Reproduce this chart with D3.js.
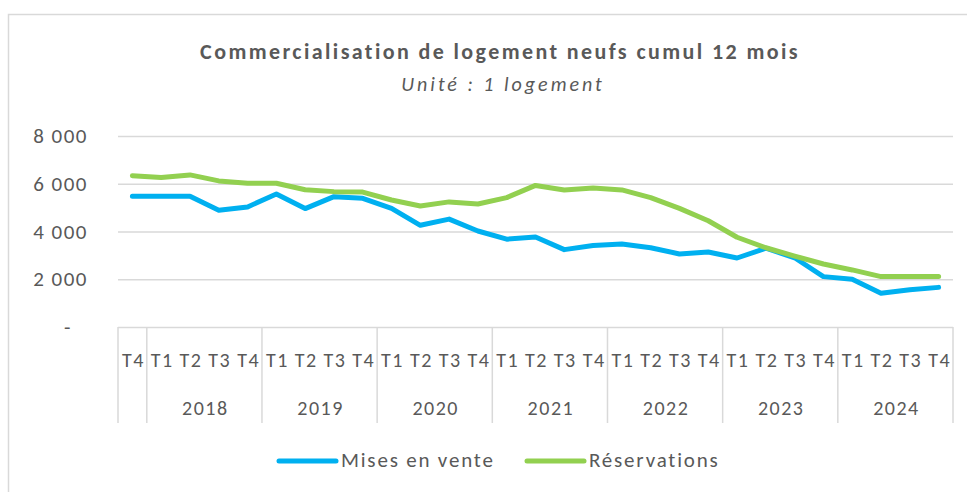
<!DOCTYPE html>
<html>
<head>
<meta charset="utf-8">
<script src="https://cdn.jsdelivr.net/npm/d3@7"></script>
<style>
  body { margin: 0; background: #fff; }
  svg { display: block; }
  text { font-family: Carlito, Lato, "Liberation Sans", sans-serif; fill: #595959; }
</style>
</head>
<body>
<div id="chart"></div>
<script>
// quarters: T4 2017 then 2018..2024
let quarters = ["T4",
  "T1", "T2", "T3", "T4", "T1", "T2", "T3", "T4",
  "T1", "T2", "T3", "T4", "T1", "T2", "T3", "T4",
  "T1", "T2", "T3", "T4", "T1", "T2", "T3", "T4",
  "T1", "T2", "T3", "T4"];
let years = ["", "2018", "2019", "2020", "2021", "2022", "2023", "2024"];
let yearSizes = [1, 4, 4, 4, 4, 4, 4, 4];
let misesEnVente = [5480, 5480, 5480, 4890, 5030, 5570, 4960, 5460, 5390,
  4970, 4260, 4520, 4020, 3680, 3770, 3240, 3410,
  3480, 3320, 3060, 3140, 2890, 3300, 2900, 2110,
  2000, 1410, 1560, 1660];
let reservations = [6340, 6260, 6370, 6120, 6020, 6020, 5750, 5670, 5650,
  5320, 5070, 5240, 5150, 5420, 5930, 5740, 5820,
  5740, 5420, 4970, 4450, 3760, 3320, 2970, 2640,
  2390, 2110, 2110, 2110];
let yTicks = [0, 2000, 4000, 6000, 8000];

let width = 967;
let height = 492;
let plot = { left: 118, right: 953, top: 136, bottom: 327 };

let svg = d3.select("#chart")
  .append("svg")
  .attr("width", width)
  .attr("height", height);

// frame
svg.append("rect")
  .attr("x", 8.5)
  .attr("y", 14.5)
  .attr("width", 970)
  .attr("height", 500)
  .style("fill", "none")
  .style("stroke", "#d9d9d9")
  .style("stroke-width", 1.5);

svg.append("text")
  .attr("x", 500)
  .attr("y", 59)
  .attr("text-anchor", "middle")
  .style("font-weight", "bold")
  .style("font-size", "22px")
  .style("letter-spacing", "2.4px")
  .text("Commercialisation  de logement neufs cumul 12 mois");
svg.append("text")
  .attr("x", 503)
  .attr("y", 91)
  .attr("text-anchor", "middle")
  .style("font-style", "italic")
  .style("font-size", "20px")
  .style("letter-spacing", "3px")
  .text("Unité : 1 logement");

let x = d3.scaleBand()
  .domain(d3.range(quarters.length))
  .range([plot.left, plot.right]);
let y = d3.scaleLinear()
  .domain([0, 8000])
  .range([plot.bottom, plot.top]);

let fmt = d => d === 0 ? "-" : d3.format(",")(d).replace(",", " ");

// y axis and gridlines
svg.append("g")
  .attr("class", "yaxis")
  .attr("transform", "translate(" + plot.left + ",0)")
  .call(d3.axisLeft(y).tickValues(yTicks).tickFormat(fmt)
    .tickSize(-(plot.right - plot.left)).tickPadding(31))
  .call(g => g.select(".domain").remove())
  .call(g => g.selectAll(".tick line").attr("stroke", "#d9d9d9").attr("stroke-width", 1.5))
  .call(g => g.selectAll(".tick text")
    .style("font-size", "21px")
    .style("letter-spacing", "1.5px")
    .attr("fill", "#595959")
    .attr("x", d => d === 0 ? -46 : -30));

// category axis: quarter labels
svg.append("g")
  .attr("class", "xaxis")
  .attr("transform", "translate(0," + plot.bottom + ")")
  .call(d3.axisBottom(x).tickFormat(i => quarters[i]).tickSize(0))
  .call(g => g.select(".domain").remove())
  .call(g => g.selectAll(".tick text")
    .attr("y", 40)
    .attr("dy", 0)
    .attr("dx", 1)
    .style("font-size", "20px")
    .style("letter-spacing", "1.5px")
    .attr("fill", "#595959"));

// year groups
let starts = [0];
yearSizes.forEach((n, i) => starts.push(starts[i] + n));
let sepX = starts.map(i => i < quarters.length ? x(i) : plot.right);
svg.append("g")
  .selectAll("line")
  .data(sepX)
  .enter()
  .append("line")
  .attr("x1", d => d)
  .attr("x2", d => d)
  .attr("y1", plot.bottom)
  .attr("y2", 423)
  .style("stroke", "#d9d9d9")
  .style("stroke-width", 1.5);
svg.append("g")
  .selectAll("text")
  .data(years)
  .enter()
  .append("text")
  .attr("x", (d, i) => (sepX[i] + sepX[i + 1]) / 2 + 1)
  .attr("y", 415)
  .attr("text-anchor", "middle")
  .style("font-size", "20px")
  .style("letter-spacing", "1.5px")
  .text(d => d);

// lines
let line = d3.line()
  .x((d, i) => x(i) + x.bandwidth() / 2)
  .y(d => y(d));
let series = [
  { name: "Mises en vente", values: misesEnVente, color: "#00b0f0" },
  { name: "Réservations", values: reservations, color: "#92d050" }
];
svg.append("g")
  .selectAll("path")
  .data(series)
  .enter()
  .append("path")
  .attr("d", d => line(d.values))
  .style("fill", "none")
  .style("stroke", d => d.color)
  .style("stroke-width", 5)
  .style("stroke-linejoin", "round")
  .style("stroke-linecap", "round");

// legend
let legendX = [278, 526];
let legend = svg.append("g").selectAll("g")
  .data(series)
  .enter()
  .append("g")
  .attr("transform", (d, i) => "translate(" + legendX[i] + ",461)");
legend.append("line")
  .attr("x1", 1).attr("x2", 58)
  .style("stroke", d => d.color)
  .style("stroke-width", 5)
  .style("stroke-linecap", "round");
legend.append("text")
  .attr("x", 63)
  .attr("y", 6)
  .style("font-size", "21px")
  .style("letter-spacing", "1.8px")
  .text(d => d.name);
</script>
</body>
</html>
